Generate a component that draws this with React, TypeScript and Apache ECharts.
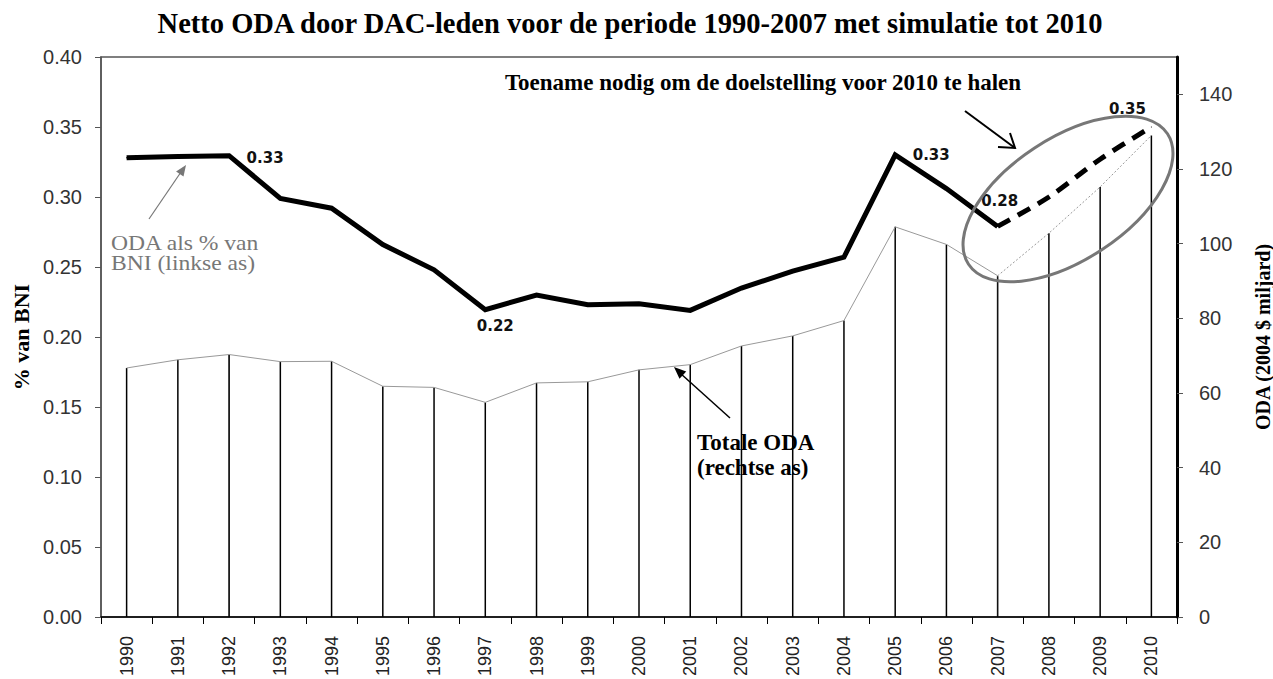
import React, { useEffect, useRef } from "react";
import * as echarts from "echarts";

// ---- data ----
const years = ["1990", "1991", "1992", "1993", "1994", "1995", "1996", "1997", "1998", "1999", "2000",
  "2001", "2002", "2003", "2004", "2005", "2006", "2007", "2008", "2009", "2010"];
// ODA as % of GNI (left axis), actual 1990-2007
const odaPctActual = [0.328, 0.329, 0.3295, 0.299, 0.292, 0.266, 0.248, 0.2195, 0.23, 0.223, 0.2238,
  0.219, 0.235, 0.247, 0.257, 0.33, 0.306, 0.279];
// simulated 2007-2010
const simYears = ["2007", "2008", "2009", "2010"];
const odaPctSim = [0.279, 0.3, 0.327, 0.35];
// Total ODA (right axis, 2004 $ bn)
const odaTotal = [66.7, 68.9, 70.3, 68.4, 68.5, 61.8, 61.5, 57.5, 62.7, 63.0, 66.2,
  67.6, 72.6, 75.3, 79.4, 104.5, 99.8, 91.4, 102.8, 115.2, 129.0];
const lastActualYear = "2007";
const rightTicks = [0, 20, 40, 60, 80, 100, 120, 140];
const leftMax = 0.4;
const leftStep = 0.05;
const rightMax = 150;
const thickBarYears = ["1992", "2007"];

const TITLE = "Netto ODA door DAC-leden voor de periode 1990-2007 met simulatie tot 2010";

const SERIF = '"Liberation Serif", "Times New Roman", serif';
const SANS = '"Liberation Sans", Arial, sans-serif';
const LABEL_FONT = '"DejaVu Sans", Verdana, sans-serif';

function arrowHead(x1: number, y1: number, x2: number, y2: number, len: number, half: number) {
  const dx = x2 - x1, dy = y2 - y1;
  const L = Math.hypot(dx, dy);
  const ux = dx / L, uy = dy / L;
  const bx = x2 - ux * len, by = y2 - uy * len;
  const nx = -uy, ny = ux;
  return [[x2, y2], [bx + nx * half, by + ny * half], [bx - nx * half, by - ny * half]];
}

export default function App() {
  const ref = useRef<HTMLDivElement>(null);
  useEffect(() => {
    if (!ref.current) return;
    const chart = echarts.init(ref.current, null, { renderer: "svg" });
    const lastIdx = years.indexOf(lastActualYear);

    const labelStyle = {
      show: true,
      fontFamily: LABEL_FONT,
      fontWeight: "bold" as const,
      fontSize: 15,
      color: "#111",
      formatter: (p: any) => Number(p.value).toFixed(2),
    };
    const actualLabels: Record<string, any> = {
      "1992": { position: "right", distance: 17, offset: [0, 2] },
      "1997": { position: "bottom", distance: 8, offset: [10, 0] },
      "2005": { position: "right", distance: 17, offset: [0, 0] },
      "2007": { position: "top", distance: 17, offset: [2, 0] },
    };
    const simLabels: Record<string, any> = {
      "2010": { position: "top", distance: 10, offset: [-24, 0] },
    };

    const pctData = years.map((y, i) => {
      if (i >= odaPctActual.length) return null;
      const v = odaPctActual[i];
      const l = actualLabels[y];
      return l ? { value: v, label: { ...labelStyle, ...l } } : v;
    });
    const simData = years.map((y) => {
      const k = simYears.indexOf(y);
      if (k < 0) return null;
      const l = simLabels[y];
      return l ? { value: odaPctSim[k], label: { ...labelStyle, ...l } } : odaPctSim[k];
    });
    const totalActual = odaTotal.map((v, i) => (i <= lastIdx ? v : null));
    const totalSim = odaTotal.map((v, i) => (i >= lastIdx ? v : null));
    const barData = odaTotal.map((v, i) =>
      thickBarYears.includes(years[i])
        ? { value: v, itemStyle: { color: "#000", borderColor: "#000", borderWidth: 0.8 } }
        : v
    );

    const g1 = arrowHead(149, 219, 186, 165, 11, 4.5);
    const g3 = arrowHead(730, 418, 674, 367, 12, 5);

    chart.setOption({
      animation: false,
      backgroundColor: "#fff",
      title: {
        text: TITLE,
        left: 625,
        top: 4,
        textAlign: "center",
        textStyle: { fontFamily: SERIF, fontWeight: "bold", fontSize: 28.5, color: "#000" },
      },
      grid: {
        left: 101,
        right: 96,
        top: 57,
        bottom: 62,
        show: true,
        borderColor: "#555",
        borderWidth: 1.5,
        backgroundColor: "transparent",
        outerBoundsMode: "none",
      },
      xAxis: {
        type: "category",
        data: years,
        boundaryGap: true,
        axisLine: { show: true, lineStyle: { color: "#000", width: 1.5 } },
        axisTick: { show: true, interval: 0, length: 7, lineStyle: { color: "#000", width: 1 } },
        axisLabel: {
          interval: 0,
          rotate: 90,
          margin: 19,
          fontFamily: SANS,
          fontSize: 18,
          color: "#222",
        },
        splitLine: { show: false },
      },
      yAxis: [
        {
          type: "value",
          min: 0,
          max: leftMax,
          interval: leftStep,
          name: "% van BNI",
          nameLocation: "middle",
          nameRotate: 90,
          nameGap: 69,
          nameTextStyle: { fontFamily: SERIF, fontWeight: "bold", fontSize: 22, color: "#000" },
          axisLine: { show: true, lineStyle: { color: "#555", width: 1.5 } },
          axisTick: { show: true, length: 6, lineStyle: { color: "#555" } },
          axisLabel: {
            margin: 19,
            fontFamily: SANS,
            fontSize: 20,
            color: "#333",
            formatter: (v: number) => v.toFixed(2),
          },
          splitLine: { show: false },
        },
        {
          type: "value",
          min: 0,
          max: rightMax,
          position: "right",
          name: "ODA (2004 $ miljard)",
          nameLocation: "middle",
          nameRotate: 90,
          nameGap: 76,
          nameTextStyle: { fontFamily: SERIF, fontWeight: "bold", fontSize: 20, color: "#000" },
          axisLine: { show: true, lineStyle: { color: "#000", width: 3 } },
          axisTick: { show: true, length: 6, customValues: rightTicks, lineStyle: { color: "#555" } },
          axisLabel: {
            customValues: rightTicks,
            margin: 22,
            align: "left",
            fontFamily: SANS,
            fontSize: 20,
            color: "#333",
          },
          splitLine: { show: false },
        },
      ],
      series: [
        {
          name: "Totale ODA",
          type: "bar",
          yAxisIndex: 1,
          barWidth: 1.5,
          data: barData,
          itemStyle: { color: "#000" },
          z: 2,
        },
        {
          name: "Totale ODA lijn",
          type: "line",
          yAxisIndex: 1,
          data: totalActual,
          symbol: "none",
          lineStyle: { color: "#999", width: 1 },
          z: 3,
        },
        {
          name: "Totale ODA simulatie",
          type: "line",
          yAxisIndex: 1,
          data: totalSim,
          symbol: "none",
          lineStyle: { color: "#999", width: 1, type: [2, 2] },
          z: 3,
        },
        {
          name: "ODA als % van BNI",
          type: "line",
          yAxisIndex: 0,
          data: pctData,
          symbol: "circle",
          symbolSize: 1,
          showSymbol: true,
          itemStyle: { color: "#000" },
          lineStyle: { color: "#000", width: 5, join: "miter" },
          z: 5,
        },
        {
          name: "Simulatie",
          type: "line",
          yAxisIndex: 0,
          data: simData,
          smooth: 0.3,
          symbol: "circle",
          symbolSize: 1,
          showSymbol: true,
          itemStyle: { color: "#000" },
          lineStyle: { color: "#000", width: 5, type: [14, 9] },
          z: 5,
        },
      ],
      graphic: [
        {
          type: "ellipse",
          x: 1068,
          y: 199,
          rotation: 0.58,
          shape: { cx: 0, cy: 0, rx: 119, ry: 61 },
          style: { fill: "none", stroke: "#777", lineWidth: 3 },
          z: 10,
        },
        {
          type: "text",
          x: 763,
          y: 82,
          style: {
            text: "Toename nodig om de doelstelling voor 2010 te halen",
            font: `bold 23px ${SERIF}`,
            fill: "#000",
            align: "center",
            verticalAlign: "middle",
          },
          z: 10,
        },
        {
          type: "line",
          shape: { x1: 965, y1: 111, x2: 1015, y2: 148 },
          style: { stroke: "#000", lineWidth: 2 },
          z: 10,
        },
        {
          type: "polyline",
          shape: { points: [[998, 147], [1015, 148], [1010, 133]] },
          style: { stroke: "#000", lineWidth: 2, fill: "none" },
          z: 10,
        },
        {
          type: "text",
          x: 111,
          y: 244,
          scaleX: 1.18,
          style: {
            text: "ODA als % van",
            font: `20px ${SERIF}`,
            fill: "#777",
            align: "left",
            verticalAlign: "middle",
          },
          z: 10,
        },
        {
          type: "text",
          x: 111,
          y: 264,
          scaleX: 1.18,
          style: {
            text: "BNI (linkse as)",
            font: `20px ${SERIF}`,
            fill: "#777",
            align: "left",
            verticalAlign: "middle",
          },
          z: 10,
        },
        {
          type: "line",
          shape: { x1: 149, y1: 219, x2: 181, y2: 172 },
          style: { stroke: "#777", lineWidth: 1.2 },
          z: 10,
        },
        {
          type: "polygon",
          shape: { points: g1 },
          style: { fill: "#777" },
          z: 10,
        },
        {
          type: "text",
          x: 697,
          y: 442,
          style: {
            text: "Totale ODA",
            font: `bold 23px ${SERIF}`,
            fill: "#000",
            align: "left",
            verticalAlign: "middle",
          },
          z: 10,
        },
        {
          type: "text",
          x: 697,
          y: 467,
          style: {
            text: "(rechtse as)",
            font: `bold 23px ${SERIF}`,
            fill: "#000",
            align: "left",
            verticalAlign: "middle",
          },
          z: 10,
        },
        {
          type: "line",
          shape: { x1: 730, y1: 418, x2: 680, y2: 373 },
          style: { stroke: "#000", lineWidth: 1.5 },
          z: 10,
        },
        {
          type: "polygon",
          shape: { points: g3 },
          style: { fill: "#000" },
          z: 10,
        },
      ],
    });
    return () => chart.dispose();
  }, []);
  return (
    <div
      ref={ref}
      style={{ position: "absolute", left: 0, top: 0, width: 1273, height: 679, background: "#fff" }}
    />
  );
}
